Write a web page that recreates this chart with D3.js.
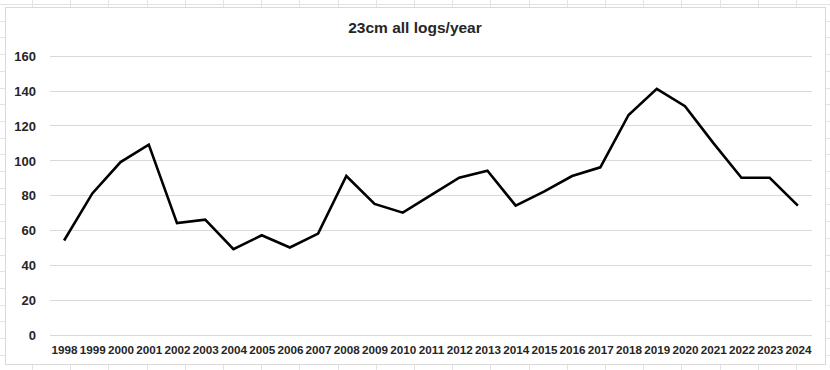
<!DOCTYPE html>
<meta charset="utf-8">
<style>
    body { margin: 0; background: #fff; }
    .sheet line { stroke: #e3e3e3; stroke-width: 1; }
    .frame { fill: #fff; stroke: #d9d9d9; stroke-width: 1; }
    .grid line { stroke: #d9d9d9; stroke-width: 1; }
    .line { fill: none; stroke: #000; stroke-width: 2.6; stroke-linejoin: miter; }
    .tick-label { font-family: "Liberation Sans", Arial, sans-serif; font-weight: bold; fill: #262626; }
    .title { font-family: "Liberation Sans", Arial, sans-serif; font-weight: bold; fill: #262626; }
</style>
<body></body>
<script src="https://cdnjs.cloudflare.com/ajax/libs/d3/7.8.5/d3.min.js"></script>
<script>
// chart values
var years = ["1998","1999","2000","2001","2002","2003","2004","2005","2006","2007","2008","2009","2010",
             "2011","2012","2013","2014","2015","2016","2017","2018","2019","2020","2021","2022","2023","2024"];
var logs = [54, 81, 99, 109, 64, 66, 49, 57, 50, 58, 91, 75, 70,
            80, 90, 94, 74, 82, 91, 96, 126, 141, 131, 110, 90, 90, 74];
var yTicks = [0, 20, 40, 60, 80, 100, 120, 140, 160];
var title = "23cm all logs/year";

var W = 830, H = 370;
var svg = d3.select("body").append("svg")
    .attr("width", W)
    .attr("height", H);

// faint spreadsheet cells behind the chart
var sheet = svg.append("g").attr("class", "sheet");
sheet.selectAll(".col")
    .data(d3.range(32, W, 38.2))
    .enter().append("line")
    .attr("x1", d => Math.round(d) + 0.5).attr("x2", d => Math.round(d) + 0.5)
    .attr("y1", 0).attr("y2", H);
sheet.selectAll(".row")
    .data(d3.range(4, H, 16.7))
    .enter().append("line")
    .attr("y1", d => Math.round(d) + 0.5).attr("y2", d => Math.round(d) + 0.5)
    .attr("x1", 0).attr("x2", W);

// chart area
svg.append("rect")
    .attr("class", "frame")
    .attr("x", 5.5).attr("y", 7.5)
    .attr("width", 820).attr("height", 357);

svg.append("text")
    .attr("class", "title")
    .attr("x", 415)
    .attr("y", 33)
    .attr("text-anchor", "middle")
    .style("font-size", "15.5px")
    .text(title);

var xScale = d3.scalePoint()
    .domain(years)
    .range([50, 812])
    .padding(0.5);

var yScale = d3.scaleLinear()
    .domain([0, 160])
    .range([334.7, 55.7]);

// horizontal gridlines
svg.append("g")
    .attr("class", "grid")
    .selectAll("line")
    .data(yTicks)
    .enter().append("line")
    .attr("x1", 50).attr("x2", 812)
    .attr("y1", d => Math.round(yScale(d)) + 0.5)
    .attr("y2", d => Math.round(yScale(d)) + 0.5);

// y axis labels
var yAxis = svg.append("g")
    .attr("transform", "translate(36,0)")
    .call(d3.axisLeft(yScale).tickValues(yTicks).tickSize(0).tickPadding(0));
yAxis.select(".domain").remove();
yAxis.selectAll("text")
    .attr("class", "tick-label")
    .attr("fill", null)
    .style("font-size", "13px")
    .attr("dy", "0.36em");

// x axis labels
var xAxis = svg.append("g")
    .attr("transform", "translate(0,346)")
    .call(d3.axisBottom(xScale).tickSize(0).tickPadding(0));
xAxis.select(".domain").remove();
xAxis.selectAll("text")
    .attr("class", "tick-label")
    .attr("fill", null)
    .style("font-size", "11.7px");

var line = d3.line()
    .x(function (d, i) { return xScale(years[i]); })
    .y(function (d) { return yScale(d); });

svg.append("path")
    .datum(logs)
    .attr("class", "line")
    .attr("d", line);
</script>
